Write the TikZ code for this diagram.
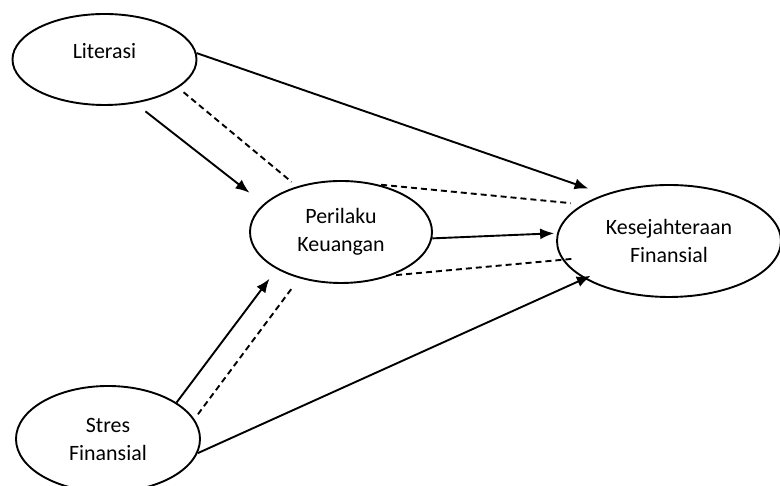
\documentclass[tikz,border=0pt]{standalone}
\usepackage{fontspec}
\setmainfont{Carlito}
\usetikzlibrary{arrows.meta}
\usetikzlibrary{shapes.geometric}
\usetikzlibrary{positioning}

\begin{document}
\begin{tikzpicture}[
  x=1pt, y=1pt,
  > = {Latex[length=14pt,width=11pt]},
  var/.style = {draw,ellipse,line width=1.9pt,inner sep=0pt,align=center,font=\fontsize{21.9}{28}\selectfont},
  link/.style = {line width=1.9pt},
  dashlink/.style = {line width=1.9pt,dash pattern=on 6pt off 4pt}
  ]
	\useasboundingbox (0,0) rectangle (780,486);

	\coordinate (@1) at (104.5,426.5);
	\coordinate (@2) at (341,254);
	\coordinate (@3) at (669,245);
	\coordinate (@4) at (108,47);

	\node[var,minimum width=184pt,minimum height=91pt,text depth=18pt] (lit) at (@1) {Literasi};
	\node[var,minimum width=182pt,minimum height=102pt] (per) at (@2) {Perilaku\\Keuangan};
	\node[var,minimum width=224pt,minimum height=112pt] (kes) at (@3) {Kesejahteraan\\Finansial};
	\node[var,minimum width=184pt,minimum height=106pt] (str) at (@4) {Stres\\Finansial};

	\draw[link,->,shorten >=17pt] (lit.4) -- (kes.144);
	\draw[link,->,shorten <=13pt,shorten >=18pt] (lit.-55) -- (per.160);
	\draw[dashlink,shorten <=7pt,shorten >=7pt] (lit.-21) -- (per.134);

	\draw[dashlink,shorten <=3pt,shorten >=12pt] (per.52) -- (kes.157);
  	\draw[link,->,shorten >=3pt] (per.-4) -- (kes.176);
	\draw[dashlink,shorten <=5pt,shorten >=-10pt] (per.-41) -- (kes.190);

	\draw[link,->,shorten >=12pt] (str.28) -- (per.210);
	\draw[dashlink,shorten <=6pt,shorten >=10pt] (str.13) -- (per.228);
	\draw[link,->,shorten >=-7pt] (str.-9.5) -- (kes.204);

\end{tikzpicture}
\end{document}
